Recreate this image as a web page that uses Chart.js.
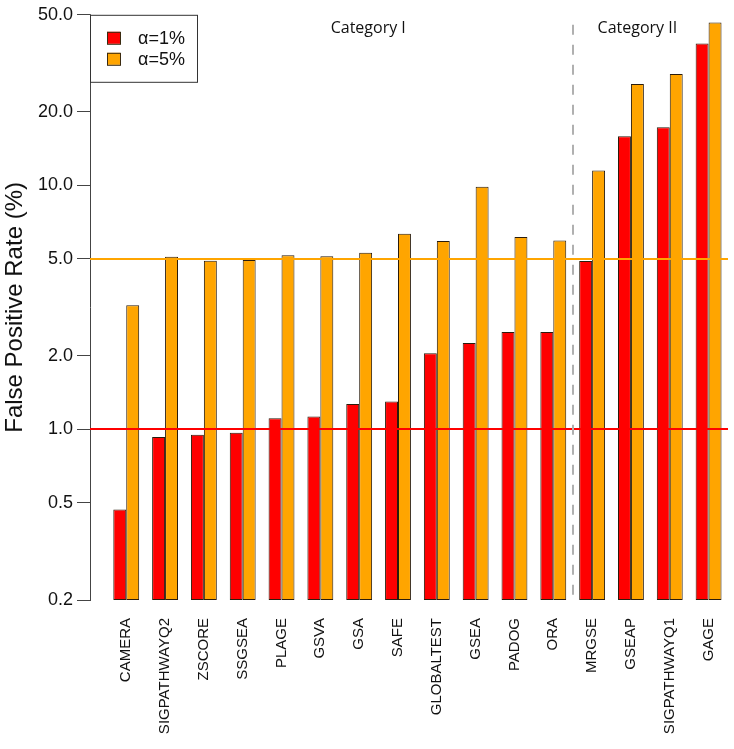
<!DOCTYPE html>
<html>
<head>
<meta charset="utf-8">
<script src="https://cdn.jsdelivr.net/npm/chart.js@4"></script>
<style>
  body { margin: 0; background: #fff; }
</style>
</head>
<body>
<canvas id="fprChart" width="734" height="749"></canvas>
<script>
const methods = [
  'CAMERA', 'SIGPATHWAYQ2', 'ZSCORE', 'SSGSEA', 'PLAGE', 'GSVA', 'GSA', 'SAFE',
  'GLOBALTEST', 'GSEA', 'PADOG', 'ORA', 'MRGSE', 'GSEAP', 'SIGPATHWAYQ1', 'GAGE'
];
const fprAlpha1 = [0.47, 0.93, 0.95, 0.97, 1.11, 1.13, 1.27, 1.30, 2.05, 2.26, 2.51, 2.51, 4.90, 15.9, 17.3, 38.1];
const fprAlpha5 = [3.23, 5.10, 4.91, 4.95, 5.17, 5.12, 5.30, 6.33, 5.91, 9.88, 6.14, 5.95, 11.5, 26.0, 28.6, 46.5];
const seriesNames = ['α=1%', 'α=5%'];
const yTicks = [0.2, 0.5, 1, 2, 5, 10, 20, 50];
const nominalLevels = [1, 5];
const categoryNames = ['Category I', 'Category II'];
const firstCategoryII = 12; // MRGSE starts category II

const red = '#ff0000';
const orange = '#ffa500';

// barplot-style positions: two bars of width 1, one unit gap before each group
const groupCenter = (i) => 2 + 3 * i;

const extras = {
  id: 'extras',
  afterDatasetsDraw(chart) {
    const ctx = chart.ctx;
    const area = chart.chartArea;
    const xs = chart.scales.x;
    const ys = chart.scales.y;
    ctx.save();

    // nominal level lines
    const lineColors = [red, orange];
    nominalLevels.forEach((lv, i) => {
      const py = Math.round(ys.getPixelForValue(lv));
      ctx.strokeStyle = lineColors[i];
      ctx.lineWidth = 2;
      ctx.beginPath();
      ctx.moveTo(area.left, py);
      ctx.lineTo(area.right, py);
      ctx.stroke();
    });

    // category separator
    const sepX = Math.round(xs.getPixelForValue(groupCenter(firstCategoryII) - 1.5));
    ctx.strokeStyle = '#b0b0b0';
    ctx.lineWidth = 2;
    ctx.setLineDash([10, 10]);
    ctx.beginPath();
    ctx.moveTo(sepX, area.top + 10);
    ctx.lineTo(sepX, area.bottom);
    ctx.stroke();
    ctx.setLineDash([]);

    // category labels
    ctx.fillStyle = '#111';
    ctx.font = '16px "Open Sans"';
    ctx.textAlign = 'center';
    ctx.textBaseline = 'alphabetic';
    ctx.fillText(categoryNames[0], xs.getPixelForValue(20.7), area.top + 18);
    ctx.fillText(categoryNames[1], xs.getPixelForValue(41.5), area.top + 18);

    // legend box
    const lx = area.left, ly = area.top;
    ctx.fillStyle = '#fff';
    ctx.fillRect(lx, ly, 107, 67);
    ctx.strokeStyle = '#333';
    ctx.lineWidth = 1;
    ctx.strokeRect(lx + 0.5, ly + 0.5, 107, 67);
    ctx.font = '18px "Liberation Sans"';
    ctx.textAlign = 'left';
    ctx.textBaseline = 'middle';
    chart.data.datasets.forEach((ds, i) => {
      const cy = ly + 23 + i * 21;
      ctx.fillStyle = ds.backgroundColor;
      ctx.fillRect(lx + 17, cy - 6, 13, 12);
      ctx.strokeStyle = '#3a2a10';
      ctx.strokeRect(lx + 17.5, cy - 5.5, 13, 12);
      ctx.fillStyle = '#111';
      ctx.fillText(ds.label, lx + 48, cy + 1);
    });
    ctx.restore();
  }
};

const barStyle = {
  borderColor: '#2a1c0c',
  borderWidth: 1,
  borderSkipped: false,
  categoryPercentage: 2 / 3,
  barPercentage: 1
};

new Chart(document.getElementById('fprChart'), {
  type: 'bar',
  data: {
    datasets: [
      Object.assign({
        label: seriesNames[0],
        data: fprAlpha1.map((v, i) => ({ x: groupCenter(i), y: v })),
        backgroundColor: red
      }, barStyle),
      Object.assign({
        label: seriesNames[1],
        data: fprAlpha5.map((v, i) => ({ x: groupCenter(i), y: v })),
        backgroundColor: orange
      }, barStyle)
    ]
  },
  options: {
    responsive: false,
    animation: false,
    layout: { padding: { top: 13, right: 6, left: 0, bottom: 0 } },
    plugins: {
      legend: { display: false },
      tooltip: { enabled: false }
    },
    scales: {
      x: {
        type: 'linear',
        offset: false,
        min: -0.8,
        max: 48.5,
        grid: { display: false, offset: false },
        border: { display: false },
        afterBuildTicks: (s) => { s.ticks = methods.map((m, i) => ({ value: groupCenter(i) })); },
        afterFit: (s) => {
          s.height = 149;
          s.paddingLeft = 0;
          s.paddingRight = 0;
        },
        ticks: {
          autoSkip: false,
          minRotation: 90,
          maxRotation: 90,
          padding: 10,
          color: '#111',
          font: { family: 'Liberation Sans', size: 15 },
          callback: (v) => methods[Math.round((v - 2) / 3)]
        }
      },
      y: {
        type: 'logarithmic',
        min: 0.2,
        max: 50,
        afterBuildTicks: (s) => { s.ticks = yTicks.map(v => ({ value: v })); },
        afterFit: (s) => { s.width = 90; },
        grid: { drawOnChartArea: false, tickLength: 13, color: '#444' },
        border: { color: '#444' },
        ticks: {
          padding: 4,
          color: '#111',
          font: { family: 'Liberation Sans', size: 18 },
          callback: (v) => Number(v).toFixed(1)
        },
        title: {
          display: true,
          text: 'False Positive Rate (%)',
          color: '#111',
          font: { family: 'Liberation Sans', size: 24 },
          padding: { top: 1, bottom: 0 }
        }
      }
    }
  },
  plugins: [extras]
});
</script>
</body>
</html>
